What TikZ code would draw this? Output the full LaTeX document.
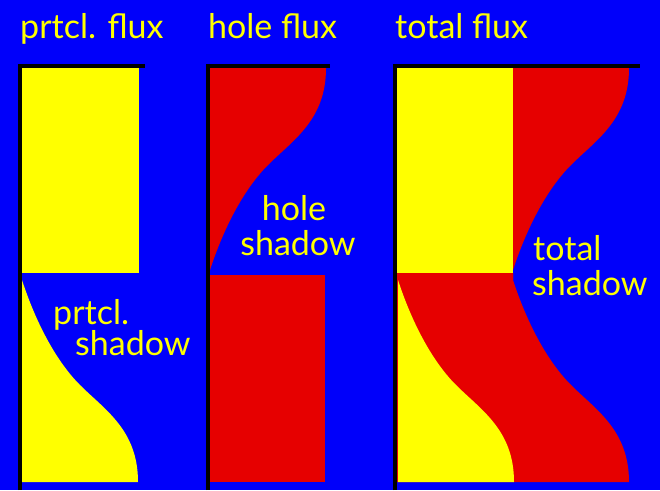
\documentclass[tikz,border=0pt]{standalone}
\usepackage{fontspec}
\setmainfont{Lato}
\usetikzlibrary{positioning}
\definecolor{FluxBlue}{RGB}{0,0,250}
\definecolor{FluxYellow}{RGB}{255,255,0}
\definecolor{FluxRed}{RGB}{230,0,0}
\tikzset{
  titel/.style={text=FluxYellow, font=\fontsize{34}{38}\selectfont, anchor=base west, inner sep=0pt},
  schatten/.style={text=FluxYellow, font=\fontsize{34}{38}\selectfont, anchor=base west, inner sep=0pt},
  gelb/.style={fill=FluxYellow},
  rot/.style={fill=FluxRed},
  wand/.style={draw=black, line width=4.6pt},
}
% particle edge (falls to the right) and hole edge (its mirror image)
\newcommand{\prtclkurve}{(22,280) .. controls (35,320) and (55,360) .. (80,385) .. controls (105,410) and (138,430) .. (138,482)}
\newcommand{\holekurve}{(326,68) .. controls (326,120) and (293,140) .. (268,165) .. controls (243,190) and (223,230) .. (210,270)}

\begin{document}
\begin{tikzpicture}[x=1pt, y=-1pt]

  \useasboundingbox (0,0) rectangle (660,490);
  \fill[FluxBlue] (0,0) rectangle (660,490);

  % --- particle flux ------------------------------------------------------
  \fill[gelb] (22,68) rectangle (139,273);
  \fill[gelb] \prtclkurve -- (22,482) -- cycle;

  % --- hole flux ----------------------------------------------------------
  \fill[rot] (210,68) -- \holekurve -- cycle;
  \fill[rot] (210,275) rectangle (325,482);

  % --- total flux ---------------------------------------------------------
  \fill[gelb] (397,68) rectangle (513,273);
  \fill[rot, shift={(303,0)}] (210,68) -- \holekurve -- cycle;
  \fill[rot] (397,273) -- (513,273) -- (513,280) -- cycle;
  \fill[rot, shift={(491,0)}] (-94,273) -- (22,273) -- \prtclkurve -- (-94,482) -- cycle;
  \fill[gelb, shift={(376,0)}] \prtclkurve -- (22,482) -- cycle;

  % --- walls --------------------------------------------------------------
  \draw[wand] (20,490) -- (20,66) -- (145,66);
  \draw[wand] (208,490) -- (208,66) -- (330,66);
  \draw[wand] (395,490) -- (395,66) -- (640,66);

  % --- labels -------------------------------------------------------------
  \node[titel] (prtclflux) at (20,38)  {prtcl. flux};
  \node[titel] (holeflux)  at (208,38) {hole flux};
  \node[titel] (totalflux) at (395,38) {total flux};

  \node[schatten] (prtclname)   at (53,324)  {prtcl.};
  \node[schatten] (prtclshadow) at (75,355)  {shadow};
  \node[schatten, anchor=base] (holename)   at (294,220) {hole};
  \node[schatten, anchor=base] (holeshadow) at (298,255) {shadow};
  \node[schatten] (totalname)   at (533,260) {total};
  \node[schatten] (totalshadow) at (532,295) {shadow};

\end{tikzpicture}
\end{document}
